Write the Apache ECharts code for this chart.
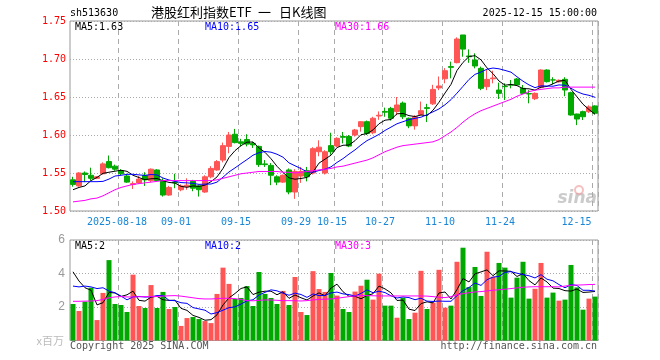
<!DOCTYPE html>
<html>
<head>
<meta charset="utf-8">
<script src="https://cdn.jsdelivr.net/npm/echarts@6/dist/echarts.min.js"></script>
<style>
html,body{margin:0;padding:0;background:#fff;}
#c{width:660px;height:360px;}
</style>
</head>
<body>
<div id="c"></div>
<script>
const dates = [
'2025-08-06','2025-08-07','2025-08-08','2025-08-11','2025-08-12','2025-08-13','2025-08-14','2025-08-15','2025-08-18','2025-08-19',
'2025-08-20','2025-08-21','2025-08-22','2025-08-25','2025-08-26','2025-08-27','2025-08-28','2025-08-29','2025-09-01','2025-09-02',
'2025-09-03','2025-09-04','2025-09-05','2025-09-08','2025-09-09','2025-09-10','2025-09-11','2025-09-12','2025-09-15','2025-09-16',
'2025-09-17','2025-09-18','2025-09-19','2025-09-22','2025-09-23','2025-09-24','2025-09-25','2025-09-26','2025-09-29','2025-09-30',
'2025-10-09','2025-10-10','2025-10-13','2025-10-14','2025-10-15','2025-10-16','2025-10-17','2025-10-20','2025-10-21','2025-10-22',
'2025-10-23','2025-10-24','2025-10-27','2025-10-28','2025-10-29','2025-10-30','2025-10-31','2025-11-03','2025-11-04','2025-11-05',
'2025-11-06','2025-11-07','2025-11-10','2025-11-11','2025-11-12','2025-11-13','2025-11-14','2025-11-17','2025-11-18','2025-11-19',
'2025-11-20','2025-11-21','2025-11-24','2025-11-25','2025-11-26','2025-11-27','2025-11-28','2025-12-01','2025-12-02','2025-12-03',
'2025-12-04','2025-12-05','2025-12-08','2025-12-09','2025-12-10','2025-12-11','2025-12-12','2025-12-15'];

const tickLabels = ['2025-08-18','09-01','09-15','09-29','10-15','10-27','11-10','11-24','12-15'];
const tickDates = ['2025-08-18','2025-09-01','2025-09-15','2025-09-29','2025-10-15','2025-10-27','2025-11-10','2025-11-24','2025-12-15'];

const open = [1.541,1.533,1.550,1.547,1.543,1.549,1.565,1.559,1.553,1.546,
1.535,1.537,1.547,1.540,1.554,1.540,1.521,1.538,1.528,1.532,
1.539,1.533,1.525,1.545,1.554,1.567,1.585,1.601,1.591,1.594,
1.589,1.585,1.562,1.560,1.545,1.538,1.554,1.525,1.546,1.553,
1.550,1.578,1.550,1.586,1.5855,1.598,1.598,1.600,1.611,1.6175,
1.603,1.625,1.631,1.635,1.631,1.642,1.622,1.612,1.627,1.636,
1.641,1.662,1.674,1.690,1.6952,1.7316,1.704,1.6987,1.6877,1.6636,
1.674,1.6592,1.664,1.666,1.6737,1.6614,1.6545,1.6478,1.6627,1.6855,
1.6725,1.670,1.6733,1.6557,1.6276,1.6307,1.6307,1.6382];

const close = [1.535,1.550,1.548,1.543,1.545,1.562,1.557,1.555,1.549,1.538,
1.536,1.542,1.541,1.555,1.540,1.521,1.531,1.537,1.533,1.534,
1.530,1.528,1.545,1.556,1.565,1.586,1.600,1.590,1.589,1.588,
1.587,1.561,1.561,1.547,1.538,1.547,1.525,1.552,1.552,1.545,
1.582,1.584,1.578,1.578,1.5956,1.597,1.5855,1.6066,1.6175,1.602,
1.622,1.626,1.630,1.622,1.6395,1.624,1.612,1.624,1.632,1.635,
1.660,1.6645,1.6846,1.689,1.7263,1.713,1.703,1.6908,1.6614,1.6732,
1.675,1.6548,1.6636,1.6658,1.6658,1.6548,1.654,1.6548,1.6855,1.6702,
1.6724,1.672,1.6592,1.6263,1.621,1.624,1.637,1.6286];

const low = [1.532,1.532,1.538,1.540,1.542,1.548,1.556,1.553,1.547,1.537,
1.529,1.536,1.533,1.538,1.539,1.519,1.520,1.530,1.526,1.528,
1.526,1.519,1.524,1.543,1.553,1.564,1.576,1.589,1.585,1.585,
1.583,1.558,1.558,1.534,1.534,1.537,1.522,1.516,1.537,1.539,
1.548,1.572,1.548,1.574,1.584,1.589,1.584,1.598,1.6044,1.600,
1.601,1.620,1.624,1.619,1.626,1.621,1.609,1.607,1.626,1.617,
1.6395,1.659,1.668,1.6746,1.6943,1.703,1.695,1.6877,1.659,1.659,
1.668,1.6474,1.646,1.6614,1.665,1.6535,1.6417,1.646,1.6614,1.669,
1.6667,1.669,1.651,1.6255,1.613,1.6197,1.629,1.627];

const high = [1.545,1.551,1.552,1.557,1.546,1.564,1.573,1.561,1.555,1.549,
1.539,1.546,1.551,1.556,1.555,1.543,1.533,1.549,1.535,1.543,
1.541,1.534,1.547,1.559,1.567,1.590,1.604,1.608,1.595,1.601,
1.591,1.586,1.567,1.563,1.547,1.548,1.556,1.555,1.558,1.558,
1.584,1.593,1.580,1.603,1.597,1.604,1.600,1.608,1.618,1.619,
1.624,1.631,1.636,1.637,1.650,1.644,1.623,1.626,1.644,1.641,
1.666,1.677,1.688,1.6965,1.7285,1.7316,1.7127,1.7075,1.690,1.6855,
1.6846,1.6689,1.668,1.6724,1.675,1.6658,1.659,1.656,1.6864,1.6864,
1.676,1.673,1.676,1.657,1.628,1.632,1.639,1.639];

// volume in millions
const volume = [2.18,1.76,2.32,3.15,1.22,2.84,4.80,2.18,2.12,1.70,
3.93,2.06,1.94,3.31,1.94,2.90,1.88,2.00,0.87,1.34,
1.40,1.28,1.16,1.04,2.78,4.35,3.38,2.48,2.54,3.25,
2.06,4.09,2.78,2.54,2.18,2.96,2.12,3.79,1.70,1.52,
4.14,3.07,2.90,4.03,2.68,1.88,1.70,2.92,3.27,3.63,
2.44,3.99,2.08,2.08,1.36,2.56,1.28,1.66,4.16,1.88,
2.26,4.22,1.96,2.08,4.70,5.54,3.19,4.39,2.66,5.30,
3.81,4.63,4.35,2.56,3.75,4.70,2.50,3.09,4.63,2.56,
2.86,2.38,2.44,4.51,3.17,1.84,2.50,2.62];

// moving-average values read off the chart where earlier history is not shown
const ma5Head = [1.528,1.531,1.533,1.540];
const ma10Head = [1.5386,1.5386,1.5386,1.5386,1.5386,1.539,1.542,1.546,1.547];
const ma30 = [1.512,1.513,1.514,1.516,1.517,1.520,1.524,1.528,1.531,1.533,
1.535,1.536,1.537,1.538,1.539,1.540,1.540,1.540,1.540,1.540,
1.540,1.540,1.540,1.540,1.541,1.543,1.545,1.547,1.549,1.550,
1.551,1.552,1.552,1.552,1.552,1.551,1.551,1.550,1.551,1.552,
1.553,1.554,1.555,1.556,1.558,1.559,1.561,1.563,1.565,1.567,
1.570,1.574,1.578,1.581,1.584,1.586,1.587,1.588,1.589,1.590,
1.591,1.594,1.599,1.604,1.610,1.617,1.623,1.628,1.632,1.635,
1.638,1.641,1.644,1.647,1.651,1.654,1.657,1.659,1.660,1.661,
1.662,1.662,1.663,1.663,1.663,1.663,1.663,1.663];
const volMa5Head = [4.1,3.55,3.15,3.0];
const volMa10Head = [3.25,3.2,3.25,3.2,3.1,3.15,2.95,2.85,2.65];
const volMa30 = [2.34,2.34,2.35,2.36,2.38,2.45,2.55,2.60,2.62,2.60,
2.60,2.61,2.62,2.62,2.63,2.65,2.67,2.68,2.65,2.60,
2.55,2.50,2.48,2.48,2.50,2.52,2.52,2.50,2.45,2.38,
2.37,2.40,2.42,2.42,2.40,2.38,2.38,2.37,2.36,2.38,
2.42,2.45,2.47,2.48,2.52,2.57,2.62,2.66,2.68,2.68,
2.67,2.66,2.66,2.66,2.66,2.66,2.66,2.66,2.66,2.65,
2.62,2.58,2.56,2.62,2.72,2.80,2.85,2.90,2.92,2.96,
3.00,3.03,3.06,3.10,3.14,3.18,3.20,3.21,3.21,3.21,
3.21,3.20,3.25,3.30,3.31,3.32,3.34,3.35];

const UP = '#ff5555', DOWN = '#00a800';

function movingAvg(vals, n, head) {
  return vals.map(function (v, i) {
    if (i < n - 1) return head[i];
    let s = 0;
    for (let k = i - n + 1; k <= i; k++) s += vals[k];
    return +(s / n).toFixed(4);
  });
}

const kData = dates.map(function (d, i) { return [open[i], close[i], low[i], high[i]]; });
const volData = volume.map(function (v, i) {
  return { value: v, itemStyle: { color: close[i] >= open[i] ? UP : DOWN } };
});

const tickIdx = tickDates.map(function (d) { return dates.indexOf(d); });
function isTick(index) { return tickIdx.indexOf(index) >= 0; }

const mono = '"DejaVu Sans Mono", "Liberation Mono", monospace';
const cjk = '13px "Noto Sans CJK SC"';
const gridLineV = { show: true, interval: function (i) { return isTick(i); }, lineStyle: { color: '#aaaaaa', type: [5, 4], width: 1 } };
const gridLineH = { show: true, lineStyle: { color: '#aaaaaa', type: [1, 2], width: 1 } };

const chart = echarts.init(document.getElementById('c'), null, { renderer: 'canvas' });
chart.setOption({
  animation: false,
  backgroundColor: '#ffffff',
  grid: [
    { left: 70, top: 21, width: 528, height: 190, show: true, borderColor: '#999', borderWidth: 1, backgroundColor: 'transparent' },
    { left: 70, top: 240, width: 528, height: 100.5, show: true, borderColor: '#999', borderWidth: 1, backgroundColor: 'transparent' }
  ],
  xAxis: [
    {
      type: 'category', gridIndex: 0, data: dates, boundaryGap: true,
      axisLine: { show: false }, axisTick: { show: false },
      axisLabel: {
        interval: function (i) { return isTick(i); },
        margin: 6,
        formatter: function (v, i) {
          const t = tickLabels[tickDates.indexOf(v)];
          if (i === dates.length - 1) return '{e|' + t + '}';
          if (t.length > 5) return '{f|' + t + '}';
          return '{n|' + t + '}';
        },
        rich: {
          n: { color: '#1a86d6', fontFamily: mono, fontSize: 10, padding: [0, 10, 0, 0] },
          f: { color: '#1a86d6', fontFamily: mono, fontSize: 10, padding: [0, 8, 0, 0] },
          e: { color: '#1a86d6', fontFamily: mono, fontSize: 10, padding: [0, 37, 0, 0] }
        }
      },
      splitLine: gridLineV
    },
    {
      type: 'category', gridIndex: 1, data: dates, boundaryGap: true,
      axisLine: { show: false }, axisTick: { show: false }, axisLabel: { show: false },
      splitLine: gridLineV
    }
  ],
  yAxis: [
    {
      type: 'value', gridIndex: 0, min: 1.50, max: 1.75, interval: 0.05,
      axisLine: { show: false }, axisTick: { show: false },
      axisLabel: { color: '#ff0000', fontFamily: mono, fontSize: 10, margin: 4, formatter: function (v) { return v.toFixed(2); } },
      splitLine: gridLineH
    },
    {
      type: 'value', gridIndex: 1, min: 0, max: 6, interval: 2,
      axisLine: { show: false }, axisTick: { show: false },
      axisLabel: { color: '#999', fontFamily: '"Liberation Sans", Arial, sans-serif', fontSize: 12, margin: 5, formatter: function (v) { return v === 0 ? '' : String(v); } },
      splitLine: gridLineH
    }
  ],
  series: [
    {
      type: 'candlestick', xAxisIndex: 0, yAxisIndex: 0, data: kData, barWidth: 5,
      itemStyle: { color: UP, color0: DOWN, borderColor: UP, borderColor0: DOWN, borderWidth: 1 },
      silent: true
    },
    { type: 'line', xAxisIndex: 0, yAxisIndex: 0, data: movingAvg(close, 5, ma5Head), showSymbol: false, lineStyle: { color: '#000000', width: 1 }, silent: true },
    { type: 'line', xAxisIndex: 0, yAxisIndex: 0, data: movingAvg(close, 10, ma10Head), showSymbol: false, lineStyle: { color: '#0000ff', width: 1 }, silent: true },
    { type: 'line', xAxisIndex: 0, yAxisIndex: 0, data: ma30, showSymbol: false, lineStyle: { color: '#ff00ff', width: 1 }, silent: true },
    { type: 'bar', xAxisIndex: 1, yAxisIndex: 1, data: volData, barWidth: 5, silent: true },
    { type: 'line', xAxisIndex: 1, yAxisIndex: 1, data: movingAvg(volume, 5, volMa5Head), showSymbol: false, lineStyle: { color: '#000000', width: 1 }, silent: true },
    { type: 'line', xAxisIndex: 1, yAxisIndex: 1, data: movingAvg(volume, 10, volMa10Head), showSymbol: false, lineStyle: { color: '#0000ff', width: 1 }, silent: true },
    { type: 'line', xAxisIndex: 1, yAxisIndex: 1, data: volMa30, showSymbol: false, lineStyle: { color: '#ff00ff', width: 1 }, silent: true }
  ],
  graphic: [
    { type: 'text', x: 70, y: 13, style: { text: 'sh513630', font: '10px ' + mono, fill: '#000', verticalAlign: 'middle' } },
    { type: 'text', x: 151, y: 12, style: { text: '港股红利指数ETF', font: cjk, fill: '#000', verticalAlign: 'middle' } },
    { type: 'text', x: 258, y: 12, style: { text: '一', font: cjk, fill: '#000', verticalAlign: 'middle' } },
    { type: 'text', x: 279, y: 12, style: { text: '日K线图', font: cjk, fill: '#000', verticalAlign: 'middle' } },
    { type: 'text', x: 597, y: 13, style: { text: '2025-12-15 15:00:00', font: '10px ' + mono, fill: '#000', align: 'right', verticalAlign: 'middle' } },
    { type: 'text', x: 75, y: 27, style: { text: 'MA5:1.63', font: '10px ' + mono, fill: '#000', verticalAlign: 'middle' } },
    { type: 'text', x: 205, y: 27, style: { text: 'MA10:1.65', font: '10px ' + mono, fill: '#0000ff', verticalAlign: 'middle' } },
    { type: 'text', x: 335, y: 27, style: { text: 'MA30:1.66', font: '10px ' + mono, fill: '#ff00ff', verticalAlign: 'middle' } },
    { type: 'text', x: 75, y: 246, style: { text: 'MA5:2', font: '10px ' + mono, fill: '#000', verticalAlign: 'middle' } },
    { type: 'text', x: 205, y: 246, style: { text: 'MA10:2', font: '10px ' + mono, fill: '#0000ff', verticalAlign: 'middle' } },
    { type: 'text', x: 335, y: 246, style: { text: 'MA30:3', font: '10px ' + mono, fill: '#ff00ff', verticalAlign: 'middle' } },
    { type: 'text', x: 64, y: 341, style: { text: 'x百万', font: '11px "Noto Sans CJK SC"', fill: '#bbbbbb', align: 'right', verticalAlign: 'middle' } },
    { type: 'text', x: 70, y: 346, style: { text: 'Copyright 2025 SINA.COM', font: '10px ' + mono, fill: '#555', verticalAlign: 'middle' } },
    { type: 'text', x: 597, y: 346, style: { text: 'http://finance.sina.com.cn', font: '10px ' + mono, fill: '#555', align: 'right', verticalAlign: 'middle' } },
    { type: 'text', x: 597, y: 199, z: -1, style: { text: 'sina', font: 'italic bold 17px "DejaVu Sans"', fill: 'rgba(185,185,185,0.75)', align: 'right', verticalAlign: 'middle' } },
    { type: 'circle', shape: { cx: 579, cy: 190, r: 4 }, z: -1, style: { fill: 'none', stroke: 'rgba(240,150,150,0.6)', lineWidth: 2 } }
  ]
});
</script>
</body>
</html>
